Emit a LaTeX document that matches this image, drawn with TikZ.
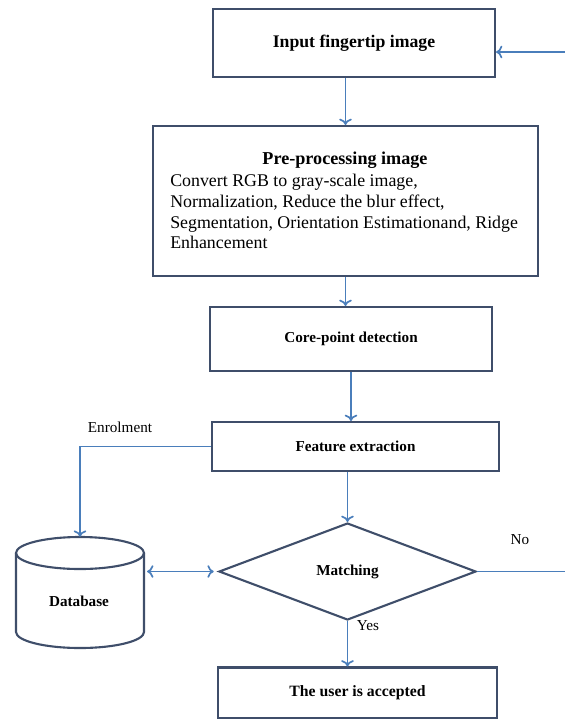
\documentclass[tikz,border=0pt]{standalone}
\usepackage{fontspec}
\setmainfont{Liberation Serif}
\usetikzlibrary{shapes.geometric, arrows.meta}
\definecolor{boxline}{HTML}{3F4E6A}
\definecolor{arrowblue}{HTML}{4A7EBB}
\newcommand{\pxu}{0.025cm}

\begin{document}
\begin{tikzpicture}[x=\pxu, y=-\pxu,
	box/.style={draw=boxline, line width=1.5pt, inner sep=0pt},
	flow/.style={draw=arrowblue, line width=1.2pt, -{To[length=4.5pt,width=9pt]}},
	bigtext/.style={font=\fontsize{12.7}{14.7}\selectfont},
	smalltext/.style={font=\fontsize{10.8}{12}\selectfont}]
				\useasboundingbox (0,0) rectangle (565,719);
				
				% boxes of the main chain
				\foreach \name/\x/\y/\w/\h/\fs/\txt in {
					input/354/43/282/68/12.6/Input fingertip image,
					core/351/339/282/64/10.8/Core-point detection,
					feat/355.5/446.5/287/49/10.8/Feature extraction,
					acc/357.5/693/279/51/11.2/The user is accepted
				}
				{
					\node[box, minimum width=\w*\pxu, minimum height=\h*\pxu,
						font=\fontsize{\fs}{\fs}\selectfont\bfseries] (\name) at (\x,\y) {\txt};
				}
				
				\node[box, minimum width=385*\pxu, minimum height=150*\pxu] (pre) at (345.5,201) {};
				\node[font=\fontsize{12.9}{14.7}\selectfont\bfseries] (pretitle) at (345,160) {Pre-processing image};
				\node[bigtext, anchor=north west, align=left, inner sep=0pt] (pretext) at (170,174)
					{Convert RGB to gray-scale image,\\
					 Normalization, Reduce the blur effect,\\
					 Segmentation, Orientation Estimationand, Ridge\\
					 Enhancement};
				
				\node[box, diamond, aspect=2.65, minimum width=257*\pxu, minimum height=97*\pxu,
					font=\fontsize{10.8}{12}\selectfont\bfseries] (match) at (347.5,571.5) {Matching};
				
				% database cylinder
				\draw[boxline, line width=1.5pt] (80,553) ellipse [x radius=1.6cm, y radius=0.4cm];
				\draw[boxline, line width=1.5pt] (16,553) -- (16,632)
					arc[start angle=180, end angle=360, x radius=1.6cm, y radius=0.4cm] -- (144,553);
				\node[minimum width=128*\pxu, minimum height=111*\pxu, inner sep=0pt] (db) at (80,592.5) {};
				\node[font=\fontsize{10.8}{12}\selectfont\bfseries] (dbtext) at (79,601) {Database};
				
				\node[smalltext] (enrol) at (120,427) {Enrolment};
				\node[smalltext] (no) at (520,540) {No};
				\node[smalltext] (yes) at (368,626) {Yes};
				
				\coordinate (inR) at (565,52);
				\coordinate (noR) at (565,571.5);
				
				% connectors
				\draw[flow] (inR) -- (inR -| input.east);
				\draw[flow] (pre.north |- input.south) -- (pre.north);
				\draw[flow] (pre.south) -- (pre.south |- core.north);
				\draw[flow] (core.south) -- (core.south |- feat.north);
				\draw[flow] (feat.west) -| (db.north);
				\draw[flow] (feat.south -| match.north) -- (match.north);
				\draw[flow, {To[length=4.5pt,width=9pt]}-{To[length=4.5pt,width=9pt]}, shorten <=2pt, shorten >=3pt]
					(db.east |- match.west) -- (match.west);
				\draw[arrowblue, line width=1.2pt] (match.east) -- (noR);
				\draw[flow] (match.south) -- (match.south |- acc.north);
			\end{tikzpicture}
\end{document}
